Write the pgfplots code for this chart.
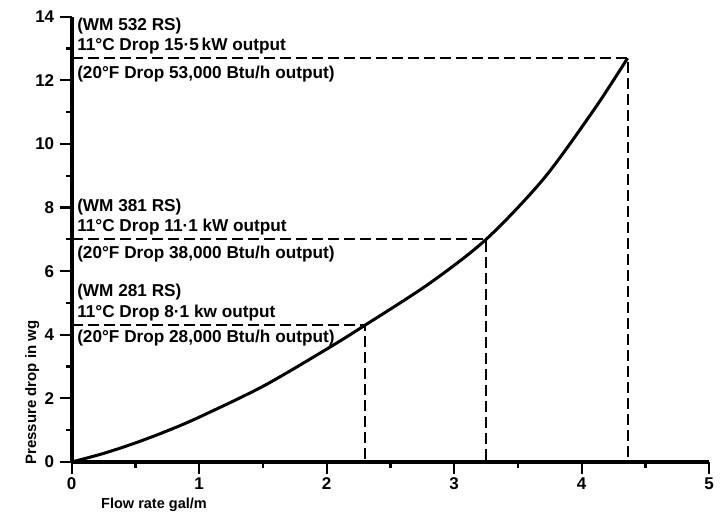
\documentclass[border=0pt]{standalone}
\usepackage{fontspec}
\setmainfont{Liberation Sans}
\usepackage{pgfplots}
\pgfplotsset{compat=1.18}

\begin{document}
\begin{tikzpicture}
\useasboundingbox (-71.7pt,-52pt) rectangle (651.3pt,462pt);
\begin{axis}[
    scale only axis,
    width=637.5pt, height=445.2pt,
    xmin=0, xmax=5,
    ymin=0, ymax=14,
    axis lines=left,
    axis line style={line width=4pt, -},
    xtick={0,1,2,3,4,5},
    ytick={0,2,4,6,8,10,12,14},
    minor xtick={0.5,1.5,2.5,3.5,4.5},
    minor ytick={1,3,5,7,9,11,13},
    tick align=outside,
    major tick length=12pt,
    minor tick length=6pt,
    tick style={black, line width=2.2pt},
    /pgf/number format/assume math mode=true,
    tick label style={font=\fontsize{17}{17}\selectfont\bfseries},
    yticklabel style={xshift=-2pt},
    clip=false,
]

% pressure drop curve
\addplot[black, line width=3pt, smooth] coordinates {
    (0,0)(0.25,0.27)(0.5,0.6)(0.75,0.98)(1,1.41)(1.5,2.38)(2,3.55)(2.3,4.3)(2.8,5.6)
    (3.25,7.0)(3.7,8.9)(4.1,11.1)(4.36,12.7)
};

% dashed guides for the three models
\addplot[black, line width=2.2pt, dash pattern=on 11pt off 5pt] coordinates {(0,4.3)(2.3,4.3)(2.3,0)};
\addplot[black, line width=2.2pt, dash pattern=on 11pt off 5pt] coordinates {(0,7.0)(3.25,7.0)(3.25,0)};
\addplot[black, line width=2.2pt, dash pattern=on 11pt off 5pt] coordinates {(0,12.7)(4.36,12.7)(4.36,0)};

\tikzset{lab/.style={anchor=base west, inner sep=0pt, font=\fontsize{17.2}{17.2}\selectfont\bfseries}}

\node[lab, yshift=28pt] at (axis cs:0.042,12.7) {(WM 532 RS)};
\node[lab, yshift=8pt]  at (axis cs:0.042,12.7) {11°C Drop 15·5\,kW output};
\node[lab, yshift=-20pt] at (axis cs:0.042,12.7) {(20°F Drop 53,000 Btu/h output)};

\node[lab, yshift=28pt] at (axis cs:0.042,7.0) {(WM 381 RS)};
\node[lab, yshift=8pt]  at (axis cs:0.042,7.0) {11°C Drop 11·1 kW output};
\node[lab, yshift=-19pt] at (axis cs:0.042,7.0) {(20°F Drop 38,000 Btu/h output)};

\node[lab, yshift=29pt] at (axis cs:0.042,4.3) {(WM 281 RS)};
\node[lab, yshift=8pt]  at (axis cs:0.042,4.3) {11°C Drop 8·1 kw output};
\node[lab, yshift=-17pt] at (axis cs:0.042,4.3) {(20°F Drop 28,000 Btu/h output)};

\node[anchor=base west, inner sep=0pt, font=\fontsize{14.5}{14.5}\selectfont\bfseries, yshift=-47pt]
    at (axis cs:0.23,0) {Flow rate gal/m};
\node[anchor=base west, inner sep=0pt, rotate=90, font=\fontsize{15}{15}\selectfont\bfseries, xshift=-3pt, yshift=35.5pt]
    at (axis cs:0,0) {Pressure drop in wg};
\end{axis}
\end{tikzpicture}
\end{document}
